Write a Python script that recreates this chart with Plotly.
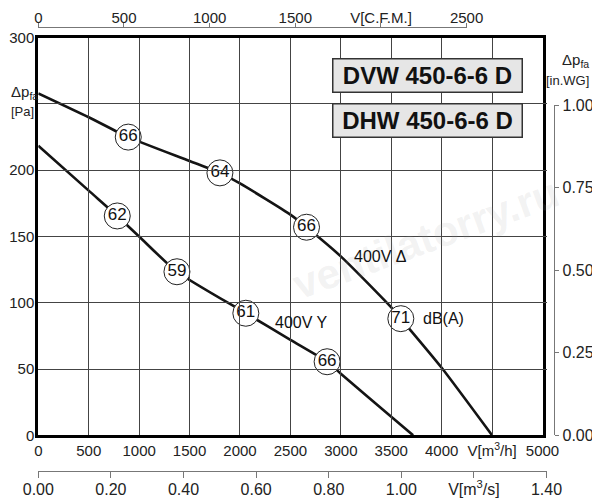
import plotly.graph_objects as go

# fan curves DVW / DHW 450-6-6 D, 400V delta and 400V star
flow_delta = [0, 500, 892, 1500, 1801, 2000, 2500, 2660, 3000, 3500, 3595, 4000, 4500]
dp_delta = [258, 240, 225, 207, 198, 190, 166.5, 157, 135, 96.5, 88, 51, 0]
flow_star = [0, 500, 783, 1000, 1375, 2058, 2500, 2864, 3000, 3500, 3717]
dp_star = [218.5, 184.6, 165.5, 150, 123.4, 92.1, 72, 55.5, 46.5, 14, 0]

# sound level points dB(A)
db_delta_flow = [892, 1801, 2660, 3595]
db_delta_dp = [225, 198, 157, 88]
db_delta = ["66", "64", "66", "71"]
db_star_flow = [783, 1375, 2058, 2864]
db_star_dp = [165.5, 123.4, 92.1, 55.5]
db_star = ["62", "59", "61", "66"]

# ticks
m3h_ticks = [0, 500, 1000, 1500, 2000, 2500, 3000, 3500, 4000, 4500, 5000]
m3h_text = ["0", "500", "1000", "1500", "2000", "2500", "3000", "3500", "4000",
            "V[m<sup>3</sup>/h]", "5000"]
pa_ticks = [0, 50, 100, 150, 200, 250, 300]
pa_text = ["0", "50", "100", "150", "200", "", "300"]  # 250 is taken by the axis title
cfm_ticks = [0, 500, 1000, 1500, 2000, 2500]
cfm_text = ["0", "500", "1000", "1500", "V[C.F.M.]", "2500"]
m3s_ticks = [0, 0.2, 0.4, 0.6, 0.8, 1.0, 1.2, 1.4]
m3s_text = ["0.00", "0.20", "0.40", "0.60", "0.80", "1.00", "V[m<sup>3</sup>/s]", "1.40"]
inwg_ticks = [0, 0.25, 0.5, 0.75, 1.0]
inwg_text = ["0.00", "0.25", "0.50", "0.75", "1.00"]

CFM = 1.699011  # m3/h per cfm
INWG = 249.089  # Pa per in.WG

# the page body has an 8px margin, so the figure is shrunk and shifted by it
OFF = 8
FW, FH = 600 - OFF, 500 - OFF

# plot frame in page pixels
X0, X1 = 38.3, 542.5
Y0, Y1 = 435.3, 37.7


def px(p):
    return (p - OFF) / FW


def py(p):
    return 1 - (p - OFF) / FH


def fx(m3h):
    return px(X0 + (X1 - X0) * m3h / 5000)


def fy(pa):
    return py(Y0 + (Y1 - Y0) * pa / 300)


FONT = "Liberation Sans, Arial, sans-serif"
INK = "#141414"

fig = go.Figure()

fig.add_trace(go.Scatter(x=flow_delta, y=dp_delta, mode="lines",
                         line=dict(color=INK, width=2.6, shape="spline", smoothing=0.6),
                         hoverinfo="skip"))
fig.add_trace(go.Scatter(x=flow_star, y=dp_star, mode="lines",
                         line=dict(color=INK, width=2.6, shape="spline", smoothing=0.6),
                         hoverinfo="skip"))

for fl, dp, txt in [(db_delta_flow, db_delta_dp, db_delta), (db_star_flow, db_star_dp, db_star)]:
    fig.add_trace(go.Scatter(
        x=fl, y=dp, mode="markers+text", text=txt, textposition="middle center",
        marker=dict(size=26, color="white", line=dict(color="#222", width=1)),
        textfont=dict(family=FONT, size=17, color="#111"), hoverinfo="skip"))

# dummy traces so the secondary axes get drawn
fig.add_trace(go.Scatter(x=[0], y=[0], xaxis="x2", yaxis="y", mode="markers",
                         marker=dict(opacity=0), hoverinfo="skip"))
fig.add_trace(go.Scatter(x=[0], y=[0], xaxis="x3", yaxis="y", mode="markers",
                         marker=dict(opacity=0), hoverinfo="skip"))
fig.add_trace(go.Scatter(x=[0], y=[0], xaxis="x", yaxis="y2", mode="markers",
                         marker=dict(opacity=0), hoverinfo="skip"))

tick15 = dict(family=FONT, size=15, color="#222")
tick16 = dict(family=FONT, size=16, color="#222")
sec = dict(showgrid=False, zeroline=False, showline=True, linecolor="#777", linewidth=1,
           ticks="outside", ticklen=6, tickcolor="#777", tickwidth=1, tickfont=tick16,
           anchor="free", fixedrange=True, automargin=False)

fig.update_layout(
    template="none",
    width=FW, height=FH,
    margin=dict(l=0, r=0, t=0, b=0, autoexpand=False),
    paper_bgcolor="white", plot_bgcolor="rgba(0,0,0,0)",
    showlegend=False,
    font=dict(family=FONT, color="#222"),
    xaxis=dict(domain=[fx(0), fx(5000)], range=[0, 5000], tickvals=m3h_ticks, ticktext=m3h_text,
               showgrid=True, gridcolor="#444", gridwidth=1, zeroline=False,
               showline=True, linecolor="black", linewidth=3, mirror=True,
               ticks="", tickfont=tick15, fixedrange=True, automargin=False),
    yaxis=dict(domain=[fy(0), fy(300)], range=[0, 300], tickvals=pa_ticks, ticktext=pa_text,
               showgrid=True, gridcolor="#444", gridwidth=1, zeroline=False,
               showline=True, linecolor="black", linewidth=3, mirror=True,
               ticks="", tickfont=tick15, ticklabelstandoff=-2,
               fixedrange=True, automargin=False),
    xaxis2=dict(domain=[fx(0), fx(2500 * CFM)], range=[0, 2500], side="top",
                position=py(27), tickvals=cfm_ticks, ticktext=cfm_text,
                ticklabelstandoff=-6, **{**sec, "tickfont": tick15, "ticklen": 4}),
    xaxis3=dict(domain=[fx(0), fx(1.4 * 3600)], range=[0, 1.4], side="bottom",
                position=py(470.7), tickvals=m3s_ticks, ticktext=m3s_text,
                ticklabelstandoff=-2, **sec),
    yaxis2=dict(domain=[fy(0), fy(INWG)], range=[0, 1.0], side="right",
                position=px(554.3), tickvals=inwg_ticks, ticktext=inwg_text,
                **{**sec, "ticklen": 4}),
)

# watermark
fig.add_annotation(xref="paper", yref="paper", x=px(425), y=py(238),
                   xanchor="center", yanchor="middle",
                   text="ventilatorry.ru", showarrow=False, textangle=-20,
                   font=dict(family=FONT, size=42, color="rgba(160,160,160,0.14)", weight="bold"))

# model boxes
for txt, cy in [("DVW 450-6-6 D", 76), ("DHW 450-6-6 D", 120.5)]:
    fig.add_annotation(xref="paper", yref="paper", x=px(427), y=py(cy),
                       xanchor="center", yanchor="middle",
                       text="<b>" + txt + "</b>", showarrow=False, width=186, height=30,
                       bgcolor="#e6e6e6", bordercolor="#333", borderwidth=1.5, borderpad=1,
                       font=dict(family=FONT, size=24, color="#111"))

# curve labels
fig.add_annotation(x=3389, y=135, text="400V \u0394", showarrow=False,
                   font=dict(family=FONT, size=16, color="#111"))
fig.add_annotation(x=3798, y=88.5, text="dB(A)", showarrow=False, xanchor="left",
                   font=dict(family=FONT, size=16, color="#111"))
fig.add_annotation(x=2612, y=85, text="400V Y", showarrow=False,
                   font=dict(family=FONT, size=16, color="#111"))

# axis titles
lab = dict(xref="paper", yref="paper", showarrow=False, yanchor="middle")
fig.add_annotation(x=px(9), y=py(93), text="\u0394p<sub>fa</sub>", xanchor="left",
                   font=dict(family=FONT, size=15, color="#222"), **lab)
fig.add_annotation(x=px(9), y=py(111), text="[Pa]", xanchor="left",
                   font=dict(family=FONT, size=13, color="#222"), **lab)
fig.add_annotation(x=px(591), y=py(60), text="\u0394p<sub>fa</sub>", xanchor="right",
                   font=dict(family=FONT, size=15, color="#222"), **lab)
fig.add_annotation(x=px(591), y=py(80.5), text="[in.WG]", xanchor="right",
                   font=dict(family=FONT, size=13, color="#222"), **lab)

fig.write_html("out.html")
